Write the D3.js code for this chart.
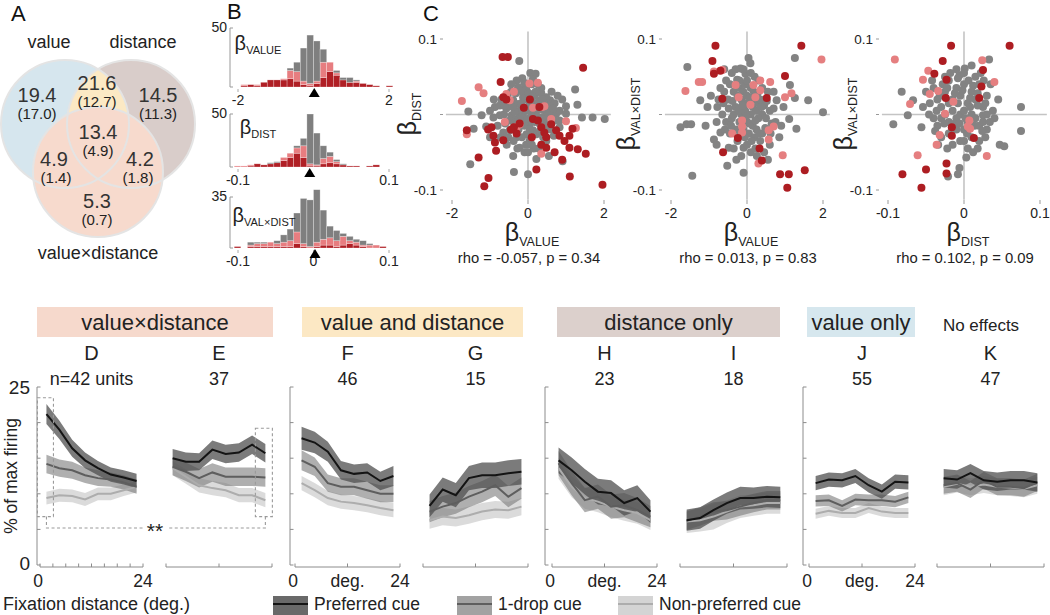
<!doctype html>
<html>
<head>
<meta charset="utf-8">
<title>figure</title>
<script src="https://d3js.org/d3.v7.min.js"></script>
<style>
  body{margin:0;background:#fff;}
  svg{font-family:Arial,"Liberation Sans",Helvetica,sans-serif;}
</style>
</head>
<body>
<script>
// ---------------- data ----------------
// A: venn percentages
var vennSets = ['value', 'distance', 'value×distance'];
var vennPct = ['19.4', '21.6', '14.5', '13.4', '4.9', '4.2', '5.3'];
var vennPctSig = ['(17.0)', '(12.7)', '(11.3)', '(4.9)', '(1.4)', '(1.8)', '(0.7)'];

// B: stacked histograms (24 bins each), dark red / pink / gray
var histValueDark = [0,1,2,1,4,6,6,6,7,5,2,1,3,8,13,10,6,4,4,3,2,1,0,1];
var histValuePink = [0,1,0,1,0,0,0,1,7,8,3,2,2,13,8,2,0,0,1,0,0,0,0,0];
var histValueGray = [0,0,0,0,0,0,0,0,2,8,28,41,34,11,0,2,2,4,1,0,0,0,0,0];
var histDistDark = [0,0,1,3,2,3,4,6,9,13,9,1,1,3,4,3,2,1,1,0,1,2,0,0];
var histDistPink = [1,1,1,0,0,0,0,3,4,5,11,2,1,5,6,2,0,0,0,0,0,0,0,0];
var histDistGray = [0,0,0,0,0,1,1,0,0,2,7,47,30,12,4,2,1,0,0,0,0,0,0,0];
var histVxdDark = [1,0,1,1,1,1,1,1,1,3,1,0,1,2,2,1,2,3,2,1,0,0,1,0];
var histVxdPink = [0,0,1,2,2,3,2,3,4,8,2,1,3,4,5,4,6,2,2,1,2,2,0,0];
var histVxdGray = [0,0,2,1,1,0,2,5,8,13,31,32,36,20,8,7,2,3,2,3,1,0,0,0];
var histMeans = [0.02, -0.005, 0.002];
var histMax = [50, 50, 35];

// C: scatter (x, y)
var sc1Gray = [[-0.23,0.071],[0.06,0.055],[0.2,0.054],[-0.15,0.048],[0.13,0.047],[-0.04,0.032],[-0.06,0.036],[1.24,0.033],[1.3,0.013],[0.58,0.019],[0.43,0.013],[0.3,0.019],[1.0,0.011],[1.42,-0.004],[1.7,-0.004],[2.02,-0.006],[-1.57,0.004],[-1.43,-0.019],[-1.22,-0.001],[-1.1,-0.016],[-0.87,0.01],[-0.74,0.012],[-0.63,0.0],[-0.57,0.008],[-0.39,0.019],[-0.3,0.014],[-0.22,0.005],[-0.13,0.001],[0.0,0.019],[0.04,0.012],[0.09,-0.001],[0.22,0.005],[0.35,-0.004],[0.48,-0.001],[0.61,0.003],[0.74,0.001],[0.83,-0.008],[-0.39,-0.055],[-0.37,-0.076],[0.22,-0.059],[0.0,-0.079],[0.91,-0.062],[-1.52,-0.066],[-0.48,-0.021],[-0.3,-0.03],[-0.04,-0.026],[0.04,-0.035],[0.13,-0.021],[-0.22,-0.044],[-0.09,-0.05],[-0.91,-0.004],[-0.3,-0.006],[-0.43,-0.001],[-0.13,0.023],[0.17,0.025],[0.35,0.028],[0.48,0.023],[-0.74,-0.001],[0.7,-0.008],[0.83,-0.017],[-0.65,-0.024],[-0.52,-0.03],[0.04,-0.013],[-0.09,-0.015],[0.22,-0.026],[0.48,-0.035],[0.83,0.005],[1.0,0.001],[-0.2,0.0],[0.1,0.002],[-0.1,-0.01],[0.3,-0.012],[-0.35,0.004],[0.15,0.015],[-0.05,0.006],[0.25,-0.003],[-0.25,-0.02],[0.4,0.006],[-0.5,0.012],[0.6,-0.02],[-0.15,0.03],[0.05,-0.02],[0.35,0.035],[-0.6,-0.012],[0.2,0.03],[-0.45,0.03],[0.7,0.015],[-0.8,-0.015],[0.1,0.04],[-0.3,0.045],[0.55,0.005],[-0.05,-0.04],[0.15,-0.045],[-0.7,0.02],[0.9,0.02],[-1.0,0.005],[0.45,-0.015],[0.0,0.01],
  [-0.55,0.025],[-0.4,0.01],[-0.32,0.028],[-0.18,0.015],[-0.08,0.022],[0.02,0.028],[0.12,0.024],[0.26,0.014],[0.38,0.02],[0.52,0.012],[0.66,0.008],[-0.62,0.012],[-0.48,-0.008],[-0.36,-0.012],[-0.16,-0.004],[-0.02,-0.006],[0.06,0.004],[0.18,-0.01],[0.32,-0.022],[0.42,-0.006],[0.56,-0.01],[0.68,-0.028],[-0.72,-0.03],[-0.56,-0.04],[-0.38,-0.035],[-0.16,-0.03],[0.0,-0.05],[0.1,-0.04],[0.28,-0.045],[0.4,-0.03],[-0.26,0.036],[-0.1,0.042],[0.26,0.04],[-0.44,0.04],[0.62,0.03],[0.78,0.025],[-0.9,0.02],[-1.0,-0.03],[-0.28,-0.045],[0.55,-0.055]];
var sc1Pink = [[-1.3,0.036],[-1.17,0.028],[-1.74,0.018],[-1.61,-0.026],[-0.57,0.027],[-0.37,0.03],[0.26,0.042],[0.37,0.01],[0.43,0.011],[0.13,0.009],[0.61,-0.006],[1.0,-0.009],[1.26,-0.018],[0.35,-0.052],[-0.61,-0.01],[-0.22,-0.013],[-0.3,-0.017],[0.04,0.041],[-0.48,0.019]];
var sc1Red = [[-0.67,0.076],[-0.53,0.076],[1.45,0.062],[-0.72,0.043],[-0.65,0.023],[-0.57,0.020],[-0.11,0.009],[-1.61,-0.021],[-1.05,-0.020],[-0.91,-0.028],[-0.87,-0.037],[-0.84,-0.048],[-0.65,-0.034],[-0.96,-0.017],[-1.3,-0.057],[-1.04,-0.084],[-1.15,-0.095],[-0.37,-0.017],[-0.22,-0.012],[0.13,-0.006],[0.26,-0.008],[0.35,-0.017],[0.43,-0.024],[0.48,-0.030],[0.61,-0.013],[0.74,-0.021],[0.83,-0.028],[0.96,-0.035],[1.09,-0.028],[1.17,-0.019],[1.09,-0.044],[1.31,-0.046],[1.52,-0.052],[0.22,-0.073],[1.1,-0.082],[1.96,-0.093],[0.35,-0.040],[0.48,-0.044],[-0.3,-0.025],[0.1,-0.03],[0.05,0.02],[-0.45,-0.02],[0.3,0.01],[0.7,-0.05],[0.9,-0.06]];

var sc2Gray = [[-1.57,0.063],[-1.75,-0.017],[-1.59,-0.013],[-1.47,-0.013],[-1.44,-0.081],[-1.23,0.019],[0.04,0.075],[0.09,0.068],[-0.17,0.061],[-0.04,0.054],[-0.26,0.046],[1.26,0.075],[1.26,0.022],[1.61,0.019],[2.0,0.003],[1.11,-0.006],[1.3,-0.019],[-0.09,-0.077],[-0.52,-0.068],[-0.48,-0.044],[-0.87,-0.033],[-1.09,-0.015],[-1.04,0.01],[-0.78,0.01],[0.26,-0.055],[-0.09,-0.044],[-0.7,-0.024],[1.13,0.039],[0.78,0.019],[0.96,0.01],[-0.6,0.03],[-0.5,0.02],[-0.45,0.04],[-0.35,0.03],[-0.3,0.01],[-0.25,0.025],[-0.2,0.035],[-0.15,0.02],[-0.1,0.03],[-0.05,0.04],[0.0,0.025],[0.05,0.015],[0.1,0.035],[0.15,0.01],[0.2,0.02],[0.25,0.005],[0.3,0.015],[0.4,0.0],[0.45,0.012],[0.5,-0.005],[0.6,0.005],[0.65,-0.012],[0.7,0.008],[-0.65,0.0],[-0.55,-0.01],[-0.4,-0.005],[-0.35,0.0],[-0.3,-0.02],[-0.2,-0.01],[-0.15,0.0],[-0.1,-0.02],[-0.05,0.005],[0.0,-0.01],[0.05,-0.025],[0.1,0.0],[0.15,-0.015],[0.2,-0.03],[0.25,-0.02],[0.3,-0.005],[0.35,-0.035],[0.4,-0.025],[-0.25,-0.035],[-0.45,-0.025],[0.0,-0.04],[0.1,-0.05],[-0.15,-0.055],[0.3,0.045],[-0.4,0.055],[0.2,0.05],[-0.7,0.035],[0.55,0.03],[-0.8,-0.01],[0.85,-0.03],[0.6,-0.04],[-0.3,0.06],[0.0,0.045],[-0.55,0.045],[0.45,-0.05],[-0.05,0.015],[0.35,0.02],
  [-0.62,0.015],[-0.48,0.008],[-0.38,0.018],[-0.22,0.005],[-0.12,0.012],[-0.02,-0.002],[0.08,0.022],[0.18,0.03],[0.28,0.028],[0.38,0.01],[0.52,0.018],[0.62,-0.025],[0.75,-0.01],[-0.75,0.02],[-0.58,-0.02],[-0.42,-0.015],[-0.18,-0.025],[-0.06,-0.03],[0.06,-0.012],[0.22,-0.008],[0.32,-0.025],[0.48,-0.018],[0.12,-0.035],[-0.35,-0.045],[-0.2,0.045],[0.1,0.055],[-0.1,0.06],[0.4,0.035],[-0.6,0.06],[0.7,0.03],[0.9,-0.015],[-0.95,0.025],[-0.28,-0.06],[0.22,-0.045],[0.55,-0.06],[-0.8,-0.04]];
var sc2Pink = [[1.96,0.073],[-0.87,0.057],[-0.65,0.059],[-0.3,0.039],[0.17,0.039],[0.35,0.045],[0.61,0.043],[0.35,0.032],[0.22,0.023],[-0.22,0.023],[1.0,0.023],[1.17,0.028],[0.09,0.013],[-0.13,-0.008],[-0.13,-0.016],[-0.13,-0.024],[0.7,-0.016],[0.57,-0.021],[0.57,-0.033],[-0.39,-0.025],[0.94,-0.054],[0.3,-0.065],[-1.18,0.043],[-1.62,0.031],[-1.27,0.043]];
var sc2Red = [[-0.83,0.091],[1.43,0.091],[-0.91,0.071],[-0.87,0.054],[-0.7,0.058],[1.0,0.051],[0.52,0.022],[-0.65,0.021],[-0.24,-0.031],[0.33,-0.045],[0.39,-0.061],[-0.63,-0.05],[0.87,-0.079],[1.1,-0.079],[1.52,-0.074],[1.06,-0.097]];

var sc3Gray = [[0.033,0.073],[0.001,0.061],[-0.006,0.052],[-0.082,0.03],[-0.067,0.019],[-0.054,0.01],[-0.093,-0.013],[-0.074,-0.001],[-0.056,-0.017],[0.075,0.01],[0.075,-0.022],[0.047,-0.04],[0.053,-0.042],[0.003,-0.057],[-0.006,-0.071],[-0.008,-0.079],[-0.021,-0.082],[0.038,0.005],[0.025,-0.001],[-0.035,0.02],[-0.03,0.01],[-0.025,0.03],[-0.02,0.045],[-0.015,0.02],[-0.01,0.035],[-0.005,0.025],[0.0,0.04],[0.005,0.015],[0.01,0.03],[0.015,0.02],[0.02,0.04],[0.025,0.01],[0.03,0.025],[-0.04,-0.005],[-0.035,-0.015],[-0.03,-0.005],[-0.025,0.0],[-0.02,-0.01],[-0.015,0.005],[-0.01,-0.005],[-0.005,0.0],[0.0,0.005],[0.005,-0.01],[0.01,0.0],[0.015,-0.005],[0.02,-0.015],[0.025,-0.01],[0.03,-0.02],[-0.03,-0.03],[-0.02,-0.025],[-0.01,-0.02],[0.0,-0.02],[0.01,-0.03],[0.02,-0.035],[-0.005,-0.035],[-0.015,-0.04],[0.005,-0.045],[-0.025,0.05],[0.0,0.055],[0.015,0.05],[-0.01,0.06],[0.01,0.065],[-0.04,0.035],[0.035,0.04],[-0.045,0.015],[0.04,-0.005],[-0.02,0.015],[0.008,0.01],[-0.012,-0.012],[0.018,0.028],[-0.028,0.04],[0.028,-0.03],[-0.038,-0.022],[0.012,-0.05],[-0.008,0.048],[0.022,0.055],
  [-0.032,0.025],[-0.022,0.035],[-0.012,0.028],[-0.002,0.032],[0.008,0.022],[0.018,0.012],[0.028,0.015],[-0.036,0.005],[-0.026,-0.012],[-0.016,-0.018],[-0.006,-0.012],[0.004,-0.025],[0.014,-0.015],[0.024,-0.022],[0.034,-0.01],[-0.042,0.045],[-0.018,0.055],[0.006,0.045],[0.026,0.045],[-0.034,-0.04],[-0.022,-0.045],[0.0,-0.035],[0.018,-0.045],[0.03,0.0],[-0.046,0.0],[-0.05,0.03],[0.045,0.02],[-0.008,0.015],[0.002,-0.005],[0.012,0.038]];
var sc3Pink = [[-0.091,0.073],[-0.047,0.058],[0.024,0.072],[0.04,0.043],[-0.054,0.046],[-0.034,0.031],[-0.045,0.027],[-0.071,0.014],[-0.014,0.017],[0.007,-0.008],[0.005,-0.016],[0.008,-0.019],[-0.032,-0.027],[-0.036,-0.040],[-0.061,-0.054],[0.03,-0.055],[-0.025,0.001]];
var sc3Red = [[-0.017,0.091],[0.06,0.091],[-0.028,0.071],[0.025,0.059],[-0.039,0.054],[-0.023,0.046],[0.023,0.037],[-0.024,0.022],[0.020,0.022],[-0.016,-0.017],[-0.016,-0.028],[0.013,-0.031],[-0.023,-0.065],[-0.023,-0.078],[-0.05,-0.073],[-0.081,-0.079],[-0.056,-0.097]];
var rhoText = ['rho = -0.057, p = 0.34', 'rho = 0.013, p = 0.83', 'rho = 0.102, p = 0.09'];

// D-K: % of max firing at fixation-distance bins
var lineX = [1.5, 4.5, 7.5, 10.5, 13.5, 16.5, 19.5, 22.5];
var prefD = [21.2,19.0,16.4,14.7,13.6,12.7,12.3,11.8], sePrefD = [1.4,1.3,1.2,1.1,1.0,1.0,1.0,1.0];
var dropD = [14.2,13.6,13.3,12.6,12.2,12.0,11.6,11.0], seDropD = [1.3,1.2,1.2,1.1,1.1,1.0,1.0,1.0];
var nonD  = [9.4,9.8,9.7,9.2,10.0,10.0,10.5,11.0],     seNonD  = [0.9,0.9,0.9,0.9,0.9,0.9,0.8,0.8];
var prefE = [15.0,14.5,14.5,16.2,15.6,15.8,16.9,15.7], sePrefE = [1.3,1.3,1.2,1.3,1.3,1.3,1.3,1.3];
var dropE = [13.8,13.1,12.2,13.0,12.4,12.4,12.4,12.3], seDropE = [1.2,1.3,1.3,1.3,1.3,1.3,1.3,1.3];
var nonE  = [13.6,12.4,11.2,10.8,10.5,9.8,9.8,9.1],    seNonE  = [1.0,1.0,1.0,1.0,1.0,1.0,1.0,1.0];
var prefF = [17.8,17.2,15.9,13.3,12.8,13.0,11.8,12.5], sePrefF = [1.6,1.5,1.4,1.3,1.3,1.3,1.3,1.4];
var dropF = [14.7,13.8,11.5,11.0,11.0,10.5,10.0,10.0], seDropF = [1.4,1.3,1.2,1.2,1.2,1.2,1.2,1.2];
var nonF  = [11.5,10.5,9.4,8.9,8.7,8.4,8.0,7.7],       seNonF  = [1.0,1.0,1.0,1.0,1.0,1.0,1.0,1.0];
var prefG = [8.3,10.6,9.8,12.2,12.6,12.6,12.9,13.1],   sePrefG = [1.6,1.7,1.7,1.7,1.8,1.8,1.8,1.8];
var dropG = [7.5,8.2,8.7,9.6,10.3,11.2,9.6,10.8],      seDropG = [1.5,1.5,1.5,1.5,1.5,1.5,1.5,1.5];
var nonG  = [6.3,6.8,6.6,7.0,7.5,7.8,7.7,8.2],         seNonG  = [1.2,1.2,1.2,1.2,1.2,1.2,1.2,1.2];
var prefH = [14.7,13.3,11.7,10.3,10.1,8.7,9.4,7.5],    sePrefH = [1.8,1.8,1.8,1.8,1.8,1.8,1.8,1.6];
var dropH = [14.3,11.5,9.1,9.6,8.2,8.4,7.7,6.8],       seDropH = [1.7,1.7,1.7,1.7,1.7,1.7,1.7,1.5];
var nonH  = [13.6,11.0,9.4,8.9,8.2,7.7,7.3,6.3],       seNonH  = [1.5,1.5,1.5,1.5,1.5,1.5,1.5,1.4];
var prefI = [6.3,6.6,7.7,8.7,9.4,9.4,9.6,9.5],         sePrefI = [1.5,1.5,1.5,1.5,1.6,1.5,1.5,1.5];
var dropI = [6.2,6.8,7.5,7.7,8.2,8.7,9.1,9.1],         seDropI = [1.3,1.3,1.3,1.3,1.3,1.3,1.3,1.3];
var nonI  = [6.1,6.3,6.8,7.5,8.2,8.4,8.7,8.7],         seNonI  = [1.6,1.6,1.8,1.6,1.6,1.5,1.5,1.5];
var prefJ = [11.5,12.0,11.9,12.5,11.2,10.3,11.7,11.6], sePrefJ = [1.0,1.0,1.0,1.0,1.0,1.0,1.0,1.0];
var dropJ = [9.0,9.1,8.3,9.2,9.1,9.1,8.9,9.5],         seDropJ = [0.8,0.8,0.8,0.8,0.8,0.8,0.8,0.8];
var nonJ  = [7.2,7.6,7.3,7.3,8.0,7.5,7.3,7.3],         seNonJ  = [0.7,0.7,0.7,0.7,0.7,0.7,0.7,0.7];
var prefK = [12.2,12.0,12.9,11.9,11.7,11.9,11.9,11.6], sePrefK = [1.3,1.3,1.3,1.3,1.3,1.3,1.3,1.3];
var dropK = [11.2,11.5,10.6,11.9,11.0,11.0,10.8,11.6], seDropK = [1.2,1.2,1.2,1.2,1.2,1.2,1.2,1.2];
var nonK  = [11.0,11.4,11.0,11.3,11.0,10.9,10.7,11.2], seNonK  = [1.2,1.2,1.2,1.2,1.2,1.2,1.2,1.2];
var panelLetters = ['D','E','F','G','H','I','J','K'];
var panelCounts = ['n=42 units','37','46','15','23','18','55','47'];
var groupTitles = ['value×distance','value and distance','distance only','value only','No effects'];
var legendLabels = ['Preferred cue','1-drop cue','Non-preferred cue'];

// ---------------- drawing ----------------
var svg = d3.select('body').append('svg')
  .attr('width', 1050)
  .attr('height', 615);

var ink = '#222';
var axisGray = '#8c8c8c';

// panel letters
[['A',11,21],['B',227,19],['C',423,21]].forEach(function(p){
  svg.append('text').attr('x',p[1]).attr('y',p[2]).attr('font-size',22).attr('fill','#111').text(p[0]);
});

// ---- A: venn ----
var venn = svg.append('g');
var cVal = {cx:65, cy:124, r:64}, cDist = {cx:131, cy:124, r:64}, cInt = {cx:98, cy:172, r:65};
svg.append('defs').append('clipPath').attr('id','clipVal')
  .append('circle').attr('cx',cVal.cx).attr('cy',cVal.cy).attr('r',cVal.r);
venn.append('circle').attr('cx',cVal.cx).attr('cy',cVal.cy).attr('r',cVal.r).attr('fill','#d6e6ee');
venn.append('circle').attr('cx',cDist.cx).attr('cy',cDist.cy).attr('r',cDist.r).attr('fill','#d9cdca');
venn.append('circle').attr('cx',cDist.cx).attr('cy',cDist.cy).attr('r',cDist.r).attr('fill','#fce9c4')
  .attr('clip-path','url(#clipVal)');
venn.append('circle').attr('cx',cInt.cx).attr('cy',cInt.cy).attr('r',cInt.r).attr('fill','#f7dacd');
[cVal,cDist,cInt].forEach(function(c){
  venn.append('circle').attr('cx',c.cx).attr('cy',c.cy).attr('r',c.r)
    .attr('fill','none').attr('stroke','#e4e4e4').attr('stroke-width',2);
});
var vennSetPos = [[49,48],[143,48],[98,259]];
vennSets.forEach(function(s,i){
  venn.append('text').attr('x',vennSetPos[i][0]).attr('y',vennSetPos[i][1])
    .attr('text-anchor','middle').attr('font-size',18).attr('fill',ink).text(s);
});
var vennPos = [[37,95],[97,83],[158,95],[98,132],[54,159],[140,159],[97,201]];
vennPct.forEach(function(v,i){
  venn.append('text').attr('x',vennPos[i][0]).attr('y',vennPos[i][1]+7)
    .attr('text-anchor','middle').attr('font-size',20).attr('fill','#333').text(v);
  venn.append('text').attr('x',vennPos[i][0]+ (i==4?2:(i==5?-2:0))).attr('y',vennPos[i][1]+24)
    .attr('text-anchor','middle').attr('font-size',15).attr('fill','#222').text(vennPctSig[i]);
});

// beta label helper
function betaLabel(g, x, y, sub, bSize, sSize, rotate){
  var t = g.append('text').attr('text-anchor','middle').attr('fill','#222');
  if(rotate){ t.attr('transform','translate('+x+','+y+') rotate(-90)'); }
  else { t.attr('x',x).attr('y',y); }
  t.append('tspan').attr('font-size',bSize).text('β');
  t.append('tspan').attr('font-size',sSize).attr('dy',bSize*0.2).text(sub);
  return t;
}

// ---- B: histograms ----
var histCfg = [
  {dark:histValueDark, pink:histValuePink, gray:histValueGray, dom:[-2,2], top:28, base:87, ticks:[-2,2], lab:['-2','2'], name:'VALUE', ly:50},
  {dark:histDistDark, pink:histDistPink, gray:histDistGray, dom:[-0.1,0.1], top:114, base:167, ticks:[-0.1,0.1], lab:['-0.1','0.1'], name:'DIST', ly:134},
  {dark:histVxdDark, pink:histVxdPink, gray:histVxdGray, dom:[-0.1,0.1], top:197, base:248, ticks:[-0.1,0,0.1], lab:['-0.1','0','0.1'], name:'VAL×DIST', ly:222}
];
histCfg.forEach(function(cfg,k){
  var g = svg.append('g');
  var x = d3.scaleLinear().domain(cfg.dom).range([238,389]);
  var y = d3.scaleLinear().domain([0,histMax[k]]).range([cfg.base,cfg.top]);
  var span = (cfg.dom[1]-cfg.dom[0])*1.05;
  var start = cfg.dom[0]*1.05, bw = span/24;
  var rows = cfg.dark.map(function(d,i){
    return {x0:start+i*bw, dark:d, pink:cfg.pink[i], gray:cfg.gray[i]};
  });
  var series = d3.stack().keys(['dark','pink','gray'])(rows);
  var colors = {dark:'#b01f25', pink:'#e77d80', gray:'#7f7f7f'};
  g.selectAll('g.s').data(series).enter().append('g')
    .attr('fill',function(s){return colors[s.key];})
    .selectAll('rect').data(function(s){return s;}).enter().append('rect')
    .attr('x',function(d){return x(d.data.x0);})
    .attr('width',x(start+bw)-x(start))
    .attr('y',function(d){return y(d[1]);})
    .attr('height',function(d){return y(d[0])-y(d[1]);})
    .attr('stroke','rgba(255,255,255,0.45)').attr('stroke-width',0.6);
  // bracket axis
  g.append('path').attr('d','M233,'+y(histMax[k])+'H230V'+cfg.base+'H233')
    .attr('fill','none').attr('stroke','#999').attr('stroke-width',1);
  g.append('text').attr('x',227).attr('y',y(histMax[k])+4).attr('text-anchor','end')
    .attr('font-size',14).attr('fill','#222').text(histMax[k]);
  // ticks
  cfg.ticks.forEach(function(t,i){
    g.append('line').attr('x1',x(t)).attr('x2',x(t)).attr('y1',cfg.base+2).attr('y2',cfg.base+5)
      .attr('stroke','#aaa');
    g.append('text').attr('x',x(t)).attr('y',cfg.base+18).attr('text-anchor','middle')
      .attr('font-size',14).attr('fill','#222').text(cfg.lab[i]);
  });
  var mx = x(histMeans[k]);
  g.append('path').attr('d','M'+mx+','+(cfg.base+1)+'L'+(mx-5.5)+','+(cfg.base+10)+'L'+(mx+5.5)+','+(cfg.base+10)+'Z')
    .attr('fill','#000');
  betaLabel(g, k==2?264:258, cfg.ly, cfg.name, 20, 11, false);
});

// ---- C: scatters ----
var scCfg = [
  {cx:528, xDom:[-2,2], xt:[-2,0,2], xl:['-2','0','2'], gray:sc1Gray, pink:sc1Pink, red:sc1Red, xs:'VALUE', ys:'DIST'},
  {cx:747, xDom:[-2,2], xt:[-2,0,2], xl:['-2','0','2'], gray:sc2Gray, pink:sc2Pink, red:sc2Red, xs:'VALUE', ys:'VAL×DIST'},
  {cx:964, xDom:[-0.1,0.1], xt:[-0.1,0,0.1], xl:['-0.1','0','0.1'], gray:sc3Gray, pink:sc3Pink, red:sc3Red, xs:'DIST', ys:'VAL×DIST'}
];
scCfg.forEach(function(cfg,k){
  var g = svg.append('g');
  var x = d3.scaleLinear().domain(cfg.xDom).range([cfg.cx-76, cfg.cx+76]);
  var y = d3.scaleLinear().domain([-0.1,0.1]).range([190,39]);
  var d0 = cfg.xDom[1];
  g.append('line').attr('x1',x(-d0*1.08)).attr('x2',x(d0*1.09)).attr('y1',y(0)).attr('y2',y(0))
    .attr('stroke','#c4c4c4').attr('stroke-width',1.6);
  g.append('line').attr('x1',x(0)).attr('x2',x(0)).attr('y1',y(0.11)).attr('y2',y(-0.113))
    .attr('stroke','#c4c4c4').attr('stroke-width',1.6);
  [[cfg.gray,'#838383'],[cfg.pink,'#e57f80'],[cfg.red,'#ad1d22']].forEach(function(s){
    g.selectAll(null).data(s[0]).enter().append('circle')
      .attr('cx',function(d){return x(d[0]);})
      .attr('cy',function(d){return y(d[1]);})
      .attr('r',4).attr('fill',s[1]);
  });
  // y ticks
  [0.1,0,-0.1].forEach(function(t){
    g.append('line').attr('x1',cfg.cx-88).attr('x2',cfg.cx-85).attr('y1',y(t)).attr('y2',y(t))
      .attr('stroke','#999');
    if(t!==0){
      g.append('text').attr('x',cfg.cx-91).attr('y',y(t)+4.5).attr('text-anchor','end')
        .attr('font-size',13.5).attr('fill','#222').text(t>0?'0.1':'-0.1');
    }
  });
  cfg.xt.forEach(function(t,i){
    g.append('line').attr('x1',x(t)).attr('x2',x(t)).attr('y1',200).attr('y2',204).attr('stroke','#999');
    g.append('text').attr('x',x(t)).attr('y',218).attr('text-anchor','middle')
      .attr('font-size',14).attr('fill','#222').text(cfg.xl[i]);
  });
  betaLabel(g, cfg.cx+4, 241, cfg.xs, 25, 12.5, false);
  betaLabel(g, cfg.cx-112, 114, cfg.ys, 25, 12.5, true);
  g.append('text').attr('x',cfg.cx+1).attr('y',263).attr('text-anchor','middle')
    .attr('font-size',14.8).attr('fill','#222').text(rhoText[k]);
});

// ---- D-K: line panels ----
var yL = d3.scaleLinear().domain([0,25]).range([565,387]);
var panels = [
  {x0:40, x1:143, pref:prefD, sp:sePrefD, drop:dropD, sd:seDropD, non:nonD, sn:seNonD, axis:37},
  {x0:166, x1:272, pref:prefE, sp:sePrefE, drop:dropE, sd:seDropE, non:nonE, sn:seNonE},
  {x0:295, x1:400, pref:prefF, sp:sePrefF, drop:dropF, sd:seDropF, non:nonF, sn:seNonF, axis:290},
  {x0:423, x1:528, pref:prefG, sp:sePrefG, drop:dropG, sd:seDropG, non:nonG, sn:seNonG},
  {x0:552, x1:657, pref:prefH, sp:sePrefH, drop:dropH, sd:seDropH, non:nonH, sn:seNonH, axis:545},
  {x0:680, x1:787, pref:prefI, sp:sePrefI, drop:dropI, sd:seDropI, non:nonI, sn:seNonI},
  {x0:809, x1:915, pref:prefJ, sp:sePrefJ, drop:dropJ, sd:seDropJ, non:nonJ, sn:seNonJ, axis:803},
  {x0:937, x1:1044, pref:prefK, sp:sePrefK, drop:dropK, sd:seDropK, non:nonK, sn:seNonK}
];
var styles = {
  non:  {band:'#bdbdbd', op:0.55, line:'#adadad'},
  drop: {band:'#7a7a7a', op:0.6,  line:'#5e5e5e'},
  pref: {band:'#4f4f4f', op:0.75, line:'#141414'}
};

// group header boxes
var headers = [
  {t:groupTitles[0], x:37, w:236, fill:'#f6d9cc'},
  {t:groupTitles[1], x:302, w:221, fill:'#fce8c4'},
  {t:groupTitles[2], x:557, w:223, fill:'#dcd0cc'},
  {t:groupTitles[3], x:807, w:108, fill:'#d6e7ee'}
];
headers.forEach(function(h){
  svg.append('rect').attr('x',h.x).attr('y',307).attr('width',h.w).attr('height',30).attr('fill',h.fill);
  svg.append('text').attr('x',h.x+h.w/2).attr('y',329.5).attr('text-anchor','middle')
    .attr('font-size',22).attr('fill','#222').text(h.t);
});
svg.append('text').attr('x',981).attr('y',331).attr('text-anchor','middle')
  .attr('font-size',17).attr('fill','#222').text(groupTitles[4]);

panels.forEach(function(p,i){
  var g = svg.append('g');
  var x = d3.scaleLinear().domain([0,24]).range([p.x0,p.x1]);
  var mid = (p.x0+p.x1)/2;
  g.append('text').attr('x',mid).attr('y',360).attr('text-anchor','middle')
    .attr('font-size',20).attr('fill','#222').text(panelLetters[i]);
  g.append('text').attr('x',mid).attr('y',384.5).attr('text-anchor','middle')
    .attr('font-size',18).attr('fill','#222').text(panelCounts[i]);

  ['non','drop','pref'].forEach(function(key){
    var m = p[key], se = p[key=='pref'?'sp':(key=='drop'?'sd':'sn')], st = styles[key];
    var area = d3.area().x(function(d,j){return x(lineX[j]);})
      .y0(function(d,j){return yL(d-se[j]);}).y1(function(d,j){return yL(d+se[j]);});
    g.append('path').attr('d',area(m)).attr('fill',st.band).attr('fill-opacity',st.op);
  });
  ['non','drop','pref'].forEach(function(key){
    var st = styles[key];
    var line = d3.line().x(function(d,j){return x(lineX[j]);}).y(function(d){return yL(d);});
    g.append('path').attr('d',line(p[key])).attr('fill','none').attr('stroke',st.line).attr('stroke-width',2);
  });

  // x axis
  g.append('line').attr('x1',x(0)).attr('x2',x(24)).attr('y1',567).attr('y2',567)
    .attr('stroke',axisGray).attr('stroke-width',1);
  var ticks = i==0 ? d3.range(0,25,3) : [0,12,24];
  ticks.forEach(function(t){
    g.append('line').attr('x1',x(t)).attr('x2',x(t)).attr('y1',567).attr('y2',563.5)
      .attr('stroke',axisGray);
  });
  if(p.axis!==undefined){
    g.append('line').attr('x1',p.axis).attr('x2',p.axis).attr('y1',yL(25)).attr('y2',yL(0))
      .attr('stroke',axisGray).attr('stroke-width',1);
    [0,5,10,15,20,25].forEach(function(t){
      g.append('line').attr('x1',p.axis).attr('x2',p.axis+3.5).attr('y1',yL(t)).attr('y2',yL(t))
        .attr('stroke',axisGray);
    });
    g.append('text').attr('x',x(0)-2).attr('y',586.5).attr('text-anchor','middle')
      .attr('font-size',17.5).attr('fill','#222').text('0');
    g.append('text').attr('x',x(24)).attr('y',586.5).attr('text-anchor','middle')
      .attr('font-size',17.5).attr('fill','#222').text('24');
    if(i>0){
      g.append('text').attr('x',x(12)).attr('y',586.5).attr('text-anchor','middle')
        .attr('font-size',17.5).attr('fill','#222').text('deg.');
    }
  }
});

// y labels of panel D
svg.append('text').attr('x',30).attr('y',yL(25)+6.5).attr('text-anchor','end')
  .attr('font-size',19).attr('fill','#222').text('25');
svg.append('text').attr('x',30).attr('y',yL(0)+4.5).attr('text-anchor','end')
  .attr('font-size',19).attr('fill','#222').text('0');
svg.append('text').attr('transform','translate(17,'+yL(12.5)+') rotate(-90)')
  .attr('text-anchor','middle').attr('font-size',17.5).attr('fill','#222').text('% of max firing');
svg.append('text').attr('x',3).attr('y',609.5)
  .attr('font-size',18).attr('fill','#222').text('Fixation distance (deg.)');

// dashed comparison boxes between D and E
var xD = d3.scaleLinear().domain([0,24]).range([panels[0].x0,panels[0].x1]);
var xE = d3.scaleLinear().domain([0,24]).range([panels[1].x0,panels[1].x1]);
var dash = svg.append('g').attr('fill','none').attr('stroke','#9a9a9a').attr('stroke-width',1.1)
  .attr('stroke-dasharray','3,2.5');
dash.append('rect').attr('x',xD(1.5)-9).attr('y',yL(23.5)).attr('width',16).attr('height',yL(6.8)-yL(23.5));
dash.append('rect').attr('x',xE(22.5)-10).attr('y',yL(19.2)).attr('width',17).attr('height',yL(6.8)-yL(19.2));
dash.append('path').attr('d','M'+xD(1.5)+','+yL(6.8)+'V'+yL(5.2)+'H143');
dash.append('path').attr('d','M'+xE(22.5)+','+yL(6.8)+'V'+yL(5.2)+'H167');
svg.append('text').attr('x',155).attr('y',yL(5.2)+10).attr('text-anchor','middle')
  .attr('font-size',21).attr('fill','#222').text('**');

// legend
var legX = [273, 457, 618];
['pref','drop','non'].forEach(function(key,i){
  var st = styles[key];
  svg.append('rect').attr('x',legX[i]).attr('y',596).attr('width',35).attr('height',19)
    .attr('fill',st.band).attr('fill-opacity',st.op+0.1);
  svg.append('line').attr('x1',legX[i]).attr('x2',legX[i]+35).attr('y1',604).attr('y2',604)
    .attr('stroke',st.line).attr('stroke-width',2);
  svg.append('text').attr('x',legX[i]+41).attr('y',609.5).attr('font-size',17.5).attr('fill','#222')
    .text(legendLabels[i]);
});
</script>
</body>
</html>
